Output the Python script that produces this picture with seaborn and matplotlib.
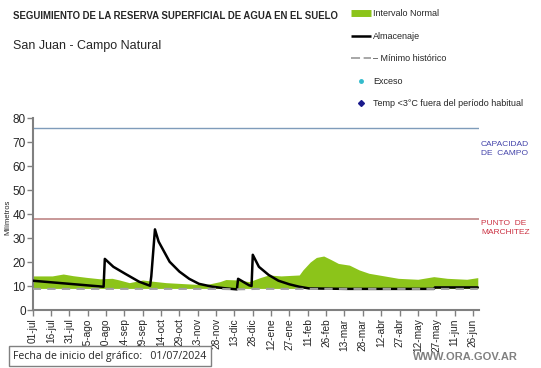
import pandas as pd
import matplotlib.pyplot as plt
import matplotlib.lines as mlines
import numpy as np
import seaborn as sns

# Intervalo normal (banda verde)
banda_fechas = ['2024-07-01', '2024-07-17', '2024-07-26', '2024-08-03', '2024-08-14', '2024-08-25',
                '2024-09-04', '2024-09-10', '2024-09-18', '2024-09-29', '2024-10-07', '2024-10-18',
                '2024-11-01', '2024-11-19', '2024-12-01', '2024-12-06', '2024-12-17', '2024-12-25',
                '2025-01-03', '2025-01-10', '2025-01-20', '2025-02-04', '2025-02-07', '2025-02-13',
                '2025-02-18', '2025-02-24', '2025-03-02', '2025-03-08', '2025-03-17', '2025-03-25',
                '2025-04-02', '2025-04-10', '2025-04-26', '2025-05-12', '2025-05-25', '2025-06-05',
                '2025-06-21', '2025-06-30']
banda_sup = [14.2, 14.2, 15.0, 14.3, 13.6, 13.0,
             13.2, 12.5, 11.4, 12.5, 12.0, 11.4,
             11.0, 10.5, 11.8, 12.7, 12.5, 11.8,
             13.5, 14.6, 14.2, 14.6, 16.7, 20.0,
             21.9, 22.5, 21.0, 19.4, 18.7, 16.7,
             15.3, 14.6, 13.2, 12.8, 13.9, 13.2,
             12.8, 13.5]
banda_inf = [9.0] * len(banda_fechas)

# Almacenaje
alm_fechas = ['2024-07-01', '2024-08-28', '2024-08-29', '2024-09-05', '2024-09-15', '2024-09-26',
              '2024-10-05', '2024-10-06', '2024-10-09', '2024-10-12', '2024-10-21', '2024-10-29',
              '2024-11-06', '2024-11-14', '2024-11-25', '2024-12-06', '2024-12-15', '2024-12-16',
              '2024-12-25', '2024-12-27', '2024-12-28', '2025-01-02', '2025-01-10', '2025-01-18',
              '2025-01-27', '2025-02-04', '2025-02-12', '2025-03-15', '2025-05-25', '2025-05-26',
              '2025-06-30']
almacenaje = [12.2, 9.7, 21.3, 18.0, 15.0, 11.8,
              10.1, 14.0, 33.6, 28.5, 20.1, 16.0,
              13.0, 10.9, 9.7, 9.0, 8.6, 13.0,
              10.3, 10.0, 23.0, 18.0, 14.6, 12.2,
              10.7, 9.7, 9.0, 8.8, 8.8, 9.4,
              9.4]

# Minimo historico
min_fechas = ['2024-07-01', '2024-12-01', '2024-12-15', '2025-01-01', '2025-06-30']
minimo = [8.8, 8.8, 8.6, 8.8, 8.8]

capacidad_campo = 76
punto_marchitez = 38

meses = ['ene', 'feb', 'mar', 'abr', 'may', 'jun', 'jul', 'ago', 'sep', 'oct', 'nov', 'dic']
ticks = pd.date_range('2024-07-01', periods=25, freq='15D')
tick_labels = [f"{d.day:02d}-{meses[d.month - 1]}" for d in ticks]

df_banda = pd.DataFrame({'fecha': pd.to_datetime(banda_fechas), 'sup': banda_sup, 'inf': banda_inf})
df_alm = pd.DataFrame({'fecha': pd.to_datetime(alm_fechas), 'mm': almacenaje})
df_min = pd.DataFrame({'fecha': pd.to_datetime(min_fechas), 'mm': minimo})

sns.set_style('white')
plt.rcParams['font.family'] = ['Liberation Sans', 'DejaVu Sans']

fig = plt.figure(figsize=(5.41, 3.68), dpi=100)
ax = fig.add_axes([0.0604, 0.1576, 0.825, 0.5217])

verde = '#8cc41a'
ax.fill_between(df_banda['fecha'], df_banda['inf'], df_banda['sup'], color=verde, lw=0, zorder=1)
sns.lineplot(data=df_alm, x='fecha', y='mm', color='black', lw=1.8, ax=ax, zorder=3)
sns.lineplot(data=df_min, x='fecha', y='mm', color='#a0a0a0', lw=1.5, ax=ax, zorder=4,
             linestyle=(0, (4, 3)))
ax.axhline(capacidad_campo, color='#7f9cba', lw=1.0, zorder=2)
ax.axhline(punto_marchitez, color='#c49090', lw=1.3, zorder=2)

ax.set_xlim(pd.Timestamp('2024-07-01'), pd.Timestamp('2025-07-01'))
ax.set_ylim(0, 80)
ax.set_yticks(range(0, 81, 10))
ax.set_xticks(ticks)
ax.set_xticklabels(tick_labels, rotation=90, fontsize=7.3)
ax.tick_params(axis='y', labelsize=8.5, length=4, width=1, color='#808080', direction='out', left=True, pad=1)
ax.tick_params(axis='x', length=4, width=1, color='#808080', direction='out', bottom=True, pad=2)
ax.set_xlabel('')
ax.set_ylabel('')
for s in ['top', 'right']:
    ax.spines[s].set_visible(False)
for s in ['left', 'bottom']:
    ax.spines[s].set_color('#808080')
    ax.spines[s].set_linewidth(1.5)

fig.text(8 / 541, 1 - 217 / 368, 'Milímetros', rotation=90, fontsize=5.5, ha='center', va='center')

# etiquetas a la derecha
fig.text(481 / 541, 1 - 149 / 368, 'CAPACIDAD\nDE  CAMPO', fontsize=6, color='#4444aa',
         ha='left', va='center', linespacing=1.3)
fig.text(481 / 541, 1 - 228 / 368, 'PUNTO  DE\nMARCHITEZ', fontsize=6, color='#cc3344',
         ha='left', va='center', linespacing=1.3)

# titulos
fig.text(13 / 541, 1 - 16 / 368, 'SEGUIMIENTO DE LA RESERVA SUPERFICIAL DE AGUA EN EL SUELO',
         fontsize=6.95, fontweight='bold', ha='left', va='center')
fig.text(13 / 541, 1 - 46 / 368, 'San Juan - Campo Natural', fontsize=9, ha='left', va='center')

# leyenda
handles = [
    mlines.Line2D([], [], color=verde, lw=5, solid_capstyle='butt'),
    mlines.Line2D([], [], color='black', lw=1.8, solid_capstyle='butt'),
    mlines.Line2D([], [], color='#a0a0a0', lw=1.3, linestyle=(0, (5, 2))),
    mlines.Line2D([], [], color='#33bbcc', marker='o', markersize=2.5, lw=0),
    mlines.Line2D([], [], color='#1a1a8c', marker='D', markersize=3, lw=0),
]
labels = ['Intervalo Normal', 'Almacenaje', '– Mínimo histórico', 'Exceso',
          'Temp <3°C fuera del período habitual']
fig.legend(handles, labels, loc='upper left', bbox_to_anchor=(343 / 541, 1 - 1 / 368),
           frameon=False, fontsize=6.5, labelspacing=1.5, handlelength=2.2, handletextpad=0.2)

# pie
fig.text(13 / 541, 1 - 356 / 368, 'Fecha de inicio del gráfico:   01/07/2024', fontsize=7.6,
         family=['Open Sans', 'DejaVu Sans'], ha='left', va='center',
         bbox=dict(boxstyle='square,pad=0.4', fc='white', ec='#808080', lw=1))
fig.text(518 / 541, 1 - 357 / 368, 'WWW.ORA.GOV.AR', fontsize=8, color='#808080',
         fontweight='bold', ha='right', va='center')

plt.savefig('out.png', dpi=100)
